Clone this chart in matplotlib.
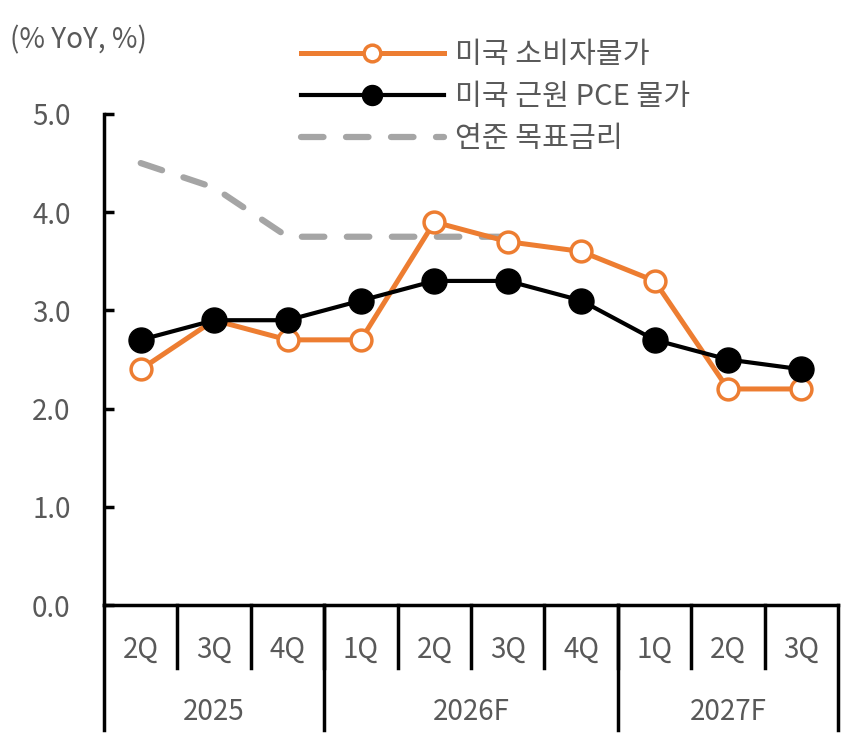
import matplotlib.pyplot as plt
import numpy as np

plt.rcParams['font.family'] = ['Noto Sans CJK KR', 'DejaVu Sans']

quarters = ["2Q", "3Q", "4Q", "1Q", "2Q", "3Q", "4Q", "1Q", "2Q", "3Q"]
years = ["2025", "2026F", "2027F"]
year_spans = [(0, 2), (3, 6), (7, 9)]

cpi = [2.4, 2.9, 2.7, 2.7, 3.9, 3.7, 3.6, 3.3, 2.2, 2.2]
core_pce = [2.7, 2.9, 2.9, 3.1, 3.3, 3.3, 3.1, 2.7, 2.5, 2.4]
fed_rate = [4.5, 4.25, 3.75, 3.75, 3.75, 3.75]

yticks = [0.0, 1.0, 2.0, 3.0, 4.0, 5.0]

text_color = "#595959"
orange = "#ED7D31"
gray = "#A5A5A5"

fig = plt.figure(figsize=(8.5, 7.43), dpi=100)
ax = fig.add_axes([0.1224, 0.1857, 0.8636, 0.6609])

x = np.arange(len(quarters))

ax.plot(np.arange(len(fed_rate)), fed_rate, color=gray, lw=4.5,
        dashes=(3.6, 3.6), solid_capstyle="round", dash_capstyle="round",
        solid_joinstyle="round", dash_joinstyle="round",
        label="연준 목표금리", zorder=2)
ax.plot(x, cpi, color=orange, lw=3.6, marker="o", markersize=15,
        markerfacecolor="white", markeredgecolor=orange, markeredgewidth=2.5,
        label="미국 소비자물가", zorder=3)
ax.plot(x, core_pce, color="black", lw=3, marker="o", markersize=18,
        markerfacecolor="black", markeredgecolor="black",
        label="미국 근원 PCE 물가", zorder=4)

ax.set_xlim(-0.5, len(quarters) - 0.5)
ax.set_ylim(0, 5)
ax.set_yticks(yticks)
ax.set_yticklabels([f"{v:.1f}" for v in yticks], fontsize=20, color=text_color)
ax.tick_params(axis="y", direction="in", length=7, width=2.5, pad=24)
ax.set_xticks([])

for s in ["top", "right"]:
    ax.spines[s].set_visible(False)
ax.spines["left"].set_linewidth(2.5)
ax.spines["bottom"].set_linewidth(2.5)

# two-level category axis
trans = ax.get_xaxis_transform()
for i in range(1, len(quarters)):
    ax.plot([i - 0.5, i - 0.5], [0, -0.128], transform=trans, color="black",
            lw=2.5, clip_on=False)
for b in [-0.5, 2.5, 6.5, 9.5]:
    ax.plot([b, b], [0, -0.255], transform=trans, color="black",
            lw=2.5, clip_on=False)
for i, q in enumerate(quarters):
    ax.text(i, -0.092, q, transform=trans, ha="center", va="center",
            fontsize=20, color=text_color)
for yl, (a, b) in zip(years, year_spans):
    ax.text((a + b) / 2, -0.218, yl, transform=trans, ha="center", va="center",
            fontsize=20, color=text_color)

fig.text(0.012, 0.946, "(% YoY, %)", fontsize=20, color=text_color,
         ha="left", va="center")

handles, labels = ax.get_legend_handles_labels()
order = [1, 2, 0]
leg = fig.legend([handles[i] for i in order], [labels[i] for i in order],
                 loc="upper left", bbox_to_anchor=(0.34, 0.962),
                 frameon=False, fontsize=21, handlelength=4.9,
                 handletextpad=0.4, labelspacing=0.42, borderaxespad=0,
                 markerscale=0.8)
for t in leg.get_texts():
    t.set_color(text_color)

fig.savefig("out.png", dpi=100)
